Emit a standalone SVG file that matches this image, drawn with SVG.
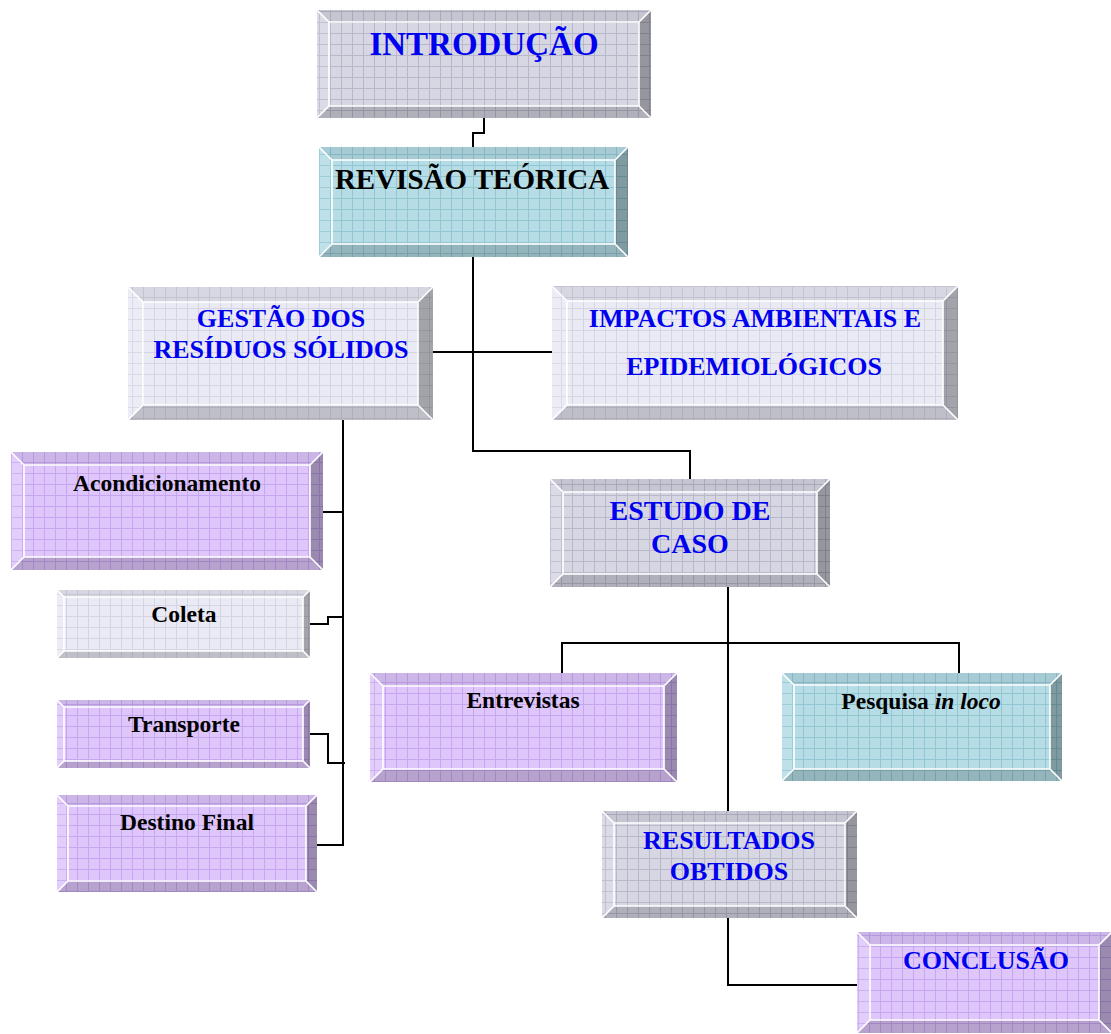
<svg xmlns="http://www.w3.org/2000/svg" width="1111" height="1034" viewBox="0 0 1111 1034">
<style>
.bt{fill:#000;fill-opacity:.08}
.bl{fill:#fff;fill-opacity:.12}
.br{fill:#000;fill-opacity:.3}
.bb{fill:#000;fill-opacity:.18}
.hl{fill:none;stroke:#fff;stroke-width:1.6}
.t{font-family:"Liberation Serif","Times New Roman",serif;font-weight:bold;text-anchor:middle}
.blue{fill:#0000f0}
.blk{fill:#000}
.big{font-size:26px}
.sm{font-size:23.5px}
#connectors path{fill:none;stroke:#000;stroke-width:2}
</style>
<defs>
<pattern id="pGray" patternUnits="userSpaceOnUse" width="11" height="11"><rect width="11" height="11" fill="#d7d7e4"/><path d="M0 .5H11M.5 0V11" stroke="#b8b8ca" stroke-width="1"/></pattern>
<pattern id="pLight" patternUnits="userSpaceOnUse" width="11" height="11"><rect width="11" height="11" fill="#eaeaf5"/><path d="M0 .5H11M.5 0V11" stroke="#d4d4e4" stroke-width="1"/></pattern>
<pattern id="pPurple" patternUnits="userSpaceOnUse" width="11" height="11"><rect width="11" height="11" fill="#dec6fb"/><path d="M0 .5H11M.5 0V11" stroke="#c6a5f1" stroke-width="1"/></pattern>
<pattern id="pTeal" patternUnits="userSpaceOnUse" width="11" height="11"><rect width="11" height="11" fill="#b6dde6"/><path d="M0 .5H11M.5 0V11" stroke="#92c6d2" stroke-width="1"/></pattern>
</defs>
<rect width="1111" height="1034" fill="#fff"/>

<g id="connectors">
<path d="M484 118V133H473V147"/>
<path d="M473 257V451H690V479"/>
<path d="M433 352H552"/>
<path d="M343 420V845H317"/>
<path d="M323 512H343"/>
<path d="M310 624H328V617H343"/>
<path d="M310 734H328V763H345"/>
<path d="M728 587V811"/>
<path d="M562 673V643H959V673"/>
<path d="M728 918V985H857"/>
</g>

<g id="introducao">
<rect x="317" y="10" width="334" height="108" fill="url(#pGray)"/>
<polygon class="bt" points="317,10 651,10 639,22 329,22"/>
<polygon class="bl" points="317,10 329,22 329,106 317,118"/>
<polygon class="br" points="651,10 651,118 639,106 639,22"/>
<polygon class="bb" points="317,118 329,106 639,106 651,118"/>
<path class="hl" d="M329 22H639V106H329ZM317 10L329 22M651 10L639 22M651 118L639 106M317 118L329 106"/>
<text class="t blue" x="484" y="55" font-size="33">INTRODUÇÃO</text>
</g>

<g id="revisao">
<rect x="319" y="147" width="309" height="110" fill="url(#pTeal)"/>
<polygon class="bt" points="319,147 628,147 615,160 332,160"/>
<polygon class="bl" points="319,147 332,160 332,244 319,257"/>
<polygon class="br" points="628,147 628,257 615,244 615,160"/>
<polygon class="bb" points="319,257 332,244 615,244 628,257"/>
<path class="hl" d="M332 160H615V244H332ZM319 147L332 160M628 147L615 160M628 257L615 244M319 257L332 244"/>
<text class="t blk" x="472" y="189" font-size="29">REVISÃO TEÓRICA</text>
</g>

<g id="gestao">
<rect x="128" y="287" width="305" height="133" fill="url(#pLight)"/>
<polygon class="bt" points="128,287 433,287 418,302 143,302"/>
<polygon class="bl" points="128,287 143,302 143,405 128,420"/>
<polygon class="br" points="433,287 433,420 418,405 418,302"/>
<polygon class="bb" points="128,420 143,405 418,405 433,420"/>
<path class="hl" d="M143 302H418V405H143ZM128 287L143 302M433 287L418 302M433 420L418 405M128 420L143 405"/>
<text class="t blue big" x="281" y="327">GESTÃO DOS</text>
<text class="t blue big" x="281" y="358">RESÍDUOS SÓLIDOS</text>
</g>

<g id="impactos">
<rect x="552" y="286" width="406" height="134" fill="url(#pLight)"/>
<polygon class="bt" points="552,286 958,286 943,301 567,301"/>
<polygon class="bl" points="552,286 567,301 567,405 552,420"/>
<polygon class="br" points="958,286 958,420 943,405 943,301"/>
<polygon class="bb" points="552,420 567,405 943,405 958,420"/>
<path class="hl" d="M567 301H943V405H567ZM552 286L567 301M958 286L943 301M958 420L943 405M552 420L567 405"/>
<text class="t blue big" x="755" y="327">IMPACTOS AMBIENTAIS E</text>
<text class="t blue big" x="754" y="375">EPIDEMIOLÓGICOS</text>
</g>

<g id="acondicionamento">
<rect x="11" y="452" width="312" height="118" fill="url(#pPurple)"/>
<polygon class="bt" points="11,452 323,452 310,465 24,465"/>
<polygon class="bl" points="11,452 24,465 24,557 11,570"/>
<polygon class="br" points="323,452 323,570 310,557 310,465"/>
<polygon class="bb" points="11,570 24,557 310,557 323,570"/>
<path class="hl" d="M24 465H310V557H24ZM11 452L24 465M323 452L310 465M323 570L310 557M11 570L24 557"/>
<text class="t blk sm" x="167" y="491">Acondicionamento</text>
</g>

<g id="coleta">
<rect x="57" y="590" width="253" height="68" fill="url(#pLight)"/>
<polygon class="bt" points="57,590 310,590 303,597 64,597"/>
<polygon class="bl" points="57,590 64,597 64,651 57,658"/>
<polygon class="br" points="310,590 310,658 303,651 303,597"/>
<polygon class="bb" points="57,658 64,651 303,651 310,658"/>
<path class="hl" d="M64 597H303V651H64ZM57 590L64 597M310 590L303 597M310 658L303 651M57 658L64 651"/>
<text class="t blk sm" x="184" y="622">Coleta</text>
</g>

<g id="transporte">
<rect x="57" y="700" width="253" height="68" fill="url(#pPurple)"/>
<polygon class="bt" points="57,700 310,700 303,707 64,707"/>
<polygon class="bl" points="57,700 64,707 64,761 57,768"/>
<polygon class="br" points="310,700 310,768 303,761 303,707"/>
<polygon class="bb" points="57,768 64,761 303,761 310,768"/>
<path class="hl" d="M64 707H303V761H64ZM57 700L64 707M310 700L303 707M310 768L303 761M57 768L64 761"/>
<text class="t blk sm" x="184" y="732">Transporte</text>
</g>

<g id="destino">
<rect x="57" y="795" width="260" height="97" fill="url(#pPurple)"/>
<polygon class="bt" points="57,795 317,795 306,806 68,806"/>
<polygon class="bl" points="57,795 68,806 68,881 57,892"/>
<polygon class="br" points="317,795 317,892 306,881 306,806"/>
<polygon class="bb" points="57,892 68,881 306,881 317,892"/>
<path class="hl" d="M68 806H306V881H68ZM57 795L68 806M317 795L306 806M317 892L306 881M57 892L68 881"/>
<text class="t blk sm" x="187" y="830">Destino Final</text>
</g>

<g id="estudo">
<rect x="550" y="479" width="280" height="108" fill="url(#pGray)"/>
<polygon class="bt" points="550,479 830,479 817,492 563,492"/>
<polygon class="bl" points="550,479 563,492 563,574 550,587"/>
<polygon class="br" points="830,479 830,587 817,574 817,492"/>
<polygon class="bb" points="550,587 563,574 817,574 830,587"/>
<path class="hl" d="M563 492H817V574H563ZM550 479L563 492M830 479L817 492M830 587L817 574M550 587L563 574"/>
<text class="t blue" x="690" y="520" font-size="28">ESTUDO DE</text>
<text class="t blue" x="690" y="553" font-size="28">CASO</text>
</g>

<g id="entrevistas">
<rect x="370" y="673" width="307" height="109" fill="url(#pPurple)"/>
<polygon class="bt" points="370,673 677,673 664,686 383,686"/>
<polygon class="bl" points="370,673 383,686 383,769 370,782"/>
<polygon class="br" points="677,673 677,782 664,769 664,686"/>
<polygon class="bb" points="370,782 383,769 664,769 677,782"/>
<path class="hl" d="M383 686H664V769H383ZM370 673L383 686M677 673L664 686M677 782L664 769M370 782L383 769"/>
<text class="t blk sm" x="523" y="708">Entrevistas</text>
</g>

<g id="pesquisa">
<rect x="782" y="673" width="280" height="108" fill="url(#pTeal)"/>
<polygon class="bt" points="782,673 1062,673 1050,685 794,685"/>
<polygon class="bl" points="782,673 794,685 794,769 782,781"/>
<polygon class="br" points="1062,673 1062,781 1050,769 1050,685"/>
<polygon class="bb" points="782,781 794,769 1050,769 1062,781"/>
<path class="hl" d="M794 685H1050V769H794ZM782 673L794 685M1062 673L1050 685M1062 781L1050 769M782 781L794 769"/>
<text class="t blk sm" x="921" y="709">Pesquisa <tspan font-style="italic">in loco</tspan></text>
</g>

<g id="resultados">
<rect x="602" y="811" width="255" height="107" fill="url(#pGray)"/>
<polygon class="bt" points="602,811 857,811 845,823 614,823"/>
<polygon class="bl" points="602,811 614,823 614,906 602,918"/>
<polygon class="br" points="857,811 857,918 845,906 845,823"/>
<polygon class="bb" points="602,918 614,906 845,906 857,918"/>
<path class="hl" d="M614 823H845V906H614ZM602 811L614 823M857 811L845 823M857 918L845 906M602 918L614 906"/>
<text class="t blue big" x="729" y="849">RESULTADOS</text>
<text class="t blue big" x="729" y="880">OBTIDOS</text>
</g>

<g id="conclusao">
<rect x="857" y="932" width="255" height="101" fill="url(#pPurple)"/>
<polygon class="bt" points="857,932 1112,932 1099,945 870,945"/>
<polygon class="bl" points="857,932 870,945 870,1020 857,1033"/>
<polygon class="br" points="1112,932 1112,1033 1099,1020 1099,945"/>
<polygon class="bb" points="857,1033 870,1020 1099,1020 1112,1033"/>
<path class="hl" d="M870 945H1099V1020H870ZM857 932L870 945M1112 932L1099 945M1112 1033L1099 1020M857 1033L870 1020"/>
<text class="t blue big" x="986" y="969">CONCLUSÃO</text>
</g>
</svg>
